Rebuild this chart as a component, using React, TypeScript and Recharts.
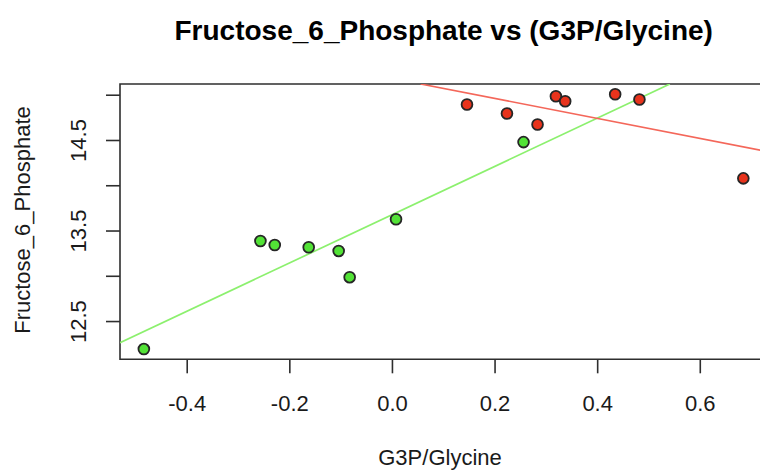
import { ScatterChart, Scatter, XAxis, YAxis, ReferenceArea } from 'recharts';

// valeurs
const greenX = [-0.4845, -0.2573, -0.2294, -0.1632, -0.1048, -0.0834, 0.007, 0.2555];
const greenY = [12.196, 13.39, 13.346, 13.321, 13.28, 12.99, 13.63, 14.482];
const redX = [0.1453, 0.2232, 0.2828, 0.3186, 0.3367, 0.4341, 0.4814, 0.6839];
const redY = [14.897, 14.798, 14.677, 14.989, 14.934, 15.011, 14.953, 14.082];

// droites de régression (extrémités)
const greenFitX = [-0.531, 0.5407];
const greenFitY = [12.266, 15.124];
const redFitX = [0.0549, 0.731];
const redFitY = [15.124, 14.378];

const xTicks = [-0.4, -0.2, 0, 0.2, 0.4, 0.6];
const yTicks = [12.5, 13, 13.5, 14, 14.5, 15];
const yLabelled = [12.5, 13.5, 14.5];

const X_DOMAIN: [number, number] = [-0.531, 0.731];
const Y_DOMAIN: [number, number] = [12.083, 15.124];

const FONT = '"Liberation Sans", Arial, Helvetica, sans-serif';

const zip = (xs: number[], ys: number[]) => xs.map((x, i) => ({ x, y: ys[i] }));

const greenData = zip(greenX, greenY);
const redData = zip(redX, redY);
const greenFit = zip(greenFitX, greenFitY);
const redFit = zip(redFitX, redFitY);

const dot = (fill: string) => (props: any) => (
  <circle cx={props.cx} cy={props.cy} r={5.4} fill={fill} stroke="#262626" strokeWidth={1.8} />
);

const XTick = ({ x, y, payload }: any) => (
  <text x={x} y={y} textAnchor="middle" fontSize={22} fontFamily={FONT} fill="#1a1a1a">
    {Number(payload.value).toFixed(1)}
  </text>
);

const YTick = ({ x, y, payload }: any) => {
  if (!yLabelled.some((v) => Math.abs(v - payload.value) < 1e-6)) return <g />;
  return (
    <text
      x={x}
      y={y}
      transform={`rotate(-90, ${x}, ${y})`}
      textAnchor="middle"
      fontSize={22}
      fontFamily={FONT}
      fill="#1a1a1a"
    >
      {Number(payload.value).toFixed(1)}
    </text>
  );
};

export default function App() {
  return (
    <div style={{ position: 'absolute', left: 0, top: 0, width: 760, height: 471, overflow: 'hidden', background: '#fff' }}>
      <ScatterChart width={790} height={471} margin={{ top: 84, right: 22.5, bottom: 51.7, left: 0 }}>
        <XAxis
          type="number"
          dataKey="x"
          domain={X_DOMAIN}
          ticks={xTicks}
          interval={0}
          allowDataOverflow
          axisLine={false}
          tickLine={{ stroke: '#2e2e2e', strokeWidth: 1.6 }}
          tickSize={14}
          tickMargin={38}
          height={60}
          tick={<XTick />}
        />
        <YAxis
          type="number"
          dataKey="y"
          domain={Y_DOMAIN}
          ticks={yTicks}
          interval={0}
          allowDataOverflow
          axisLine={false}
          tickLine={{ stroke: '#2e2e2e', strokeWidth: 1.6 }}
          tickSize={14}
          tickMargin={20}
          width={120}
          tick={<YTick />}
        />
        <ReferenceArea
          x1={X_DOMAIN[0]}
          x2={X_DOMAIN[1]}
          y1={Y_DOMAIN[0]}
          y2={Y_DOMAIN[1]}
          fill="none"
          stroke="#2e2e2e"
          strokeWidth={1.6}
          ifOverflow="visible"
        />
        <Scatter data={greenFit} line={{ stroke: '#8cf06e', strokeWidth: 1.7 }} shape={() => <g />} isAnimationActive={false} />
        <Scatter data={redFit} line={{ stroke: '#f4675a', strokeWidth: 1.6 }} shape={() => <g />} isAnimationActive={false} />
        <Scatter data={greenData} shape={dot('#52e236')} isAnimationActive={false} />
        <Scatter data={redData} shape={dot('#e8331c')} isAnimationActive={false} />
      </ScatterChart>
      <svg width={760} height={471} style={{ position: 'absolute', left: 0, top: 0, pointerEvents: 'none' }}>
        <text x={443.7} y={40} textAnchor="middle" fontSize={28} fontWeight="bold" fontFamily={FONT} fill="#000">
          Fructose_6_Phosphate vs (G3P/Glycine)
        </text>
        <text x={440} y={465} textAnchor="middle" fontSize={22} fontFamily={FONT} fill="#1a1a1a">
          G3P/Glycine
        </text>
        <text x={30} y={220} transform="rotate(-90, 30, 220)" textAnchor="middle" fontSize={22} fontFamily={FONT} fill="#1a1a1a">
          Fructose_6_Phosphate
        </text>
      </svg>
    </div>
  );
}
